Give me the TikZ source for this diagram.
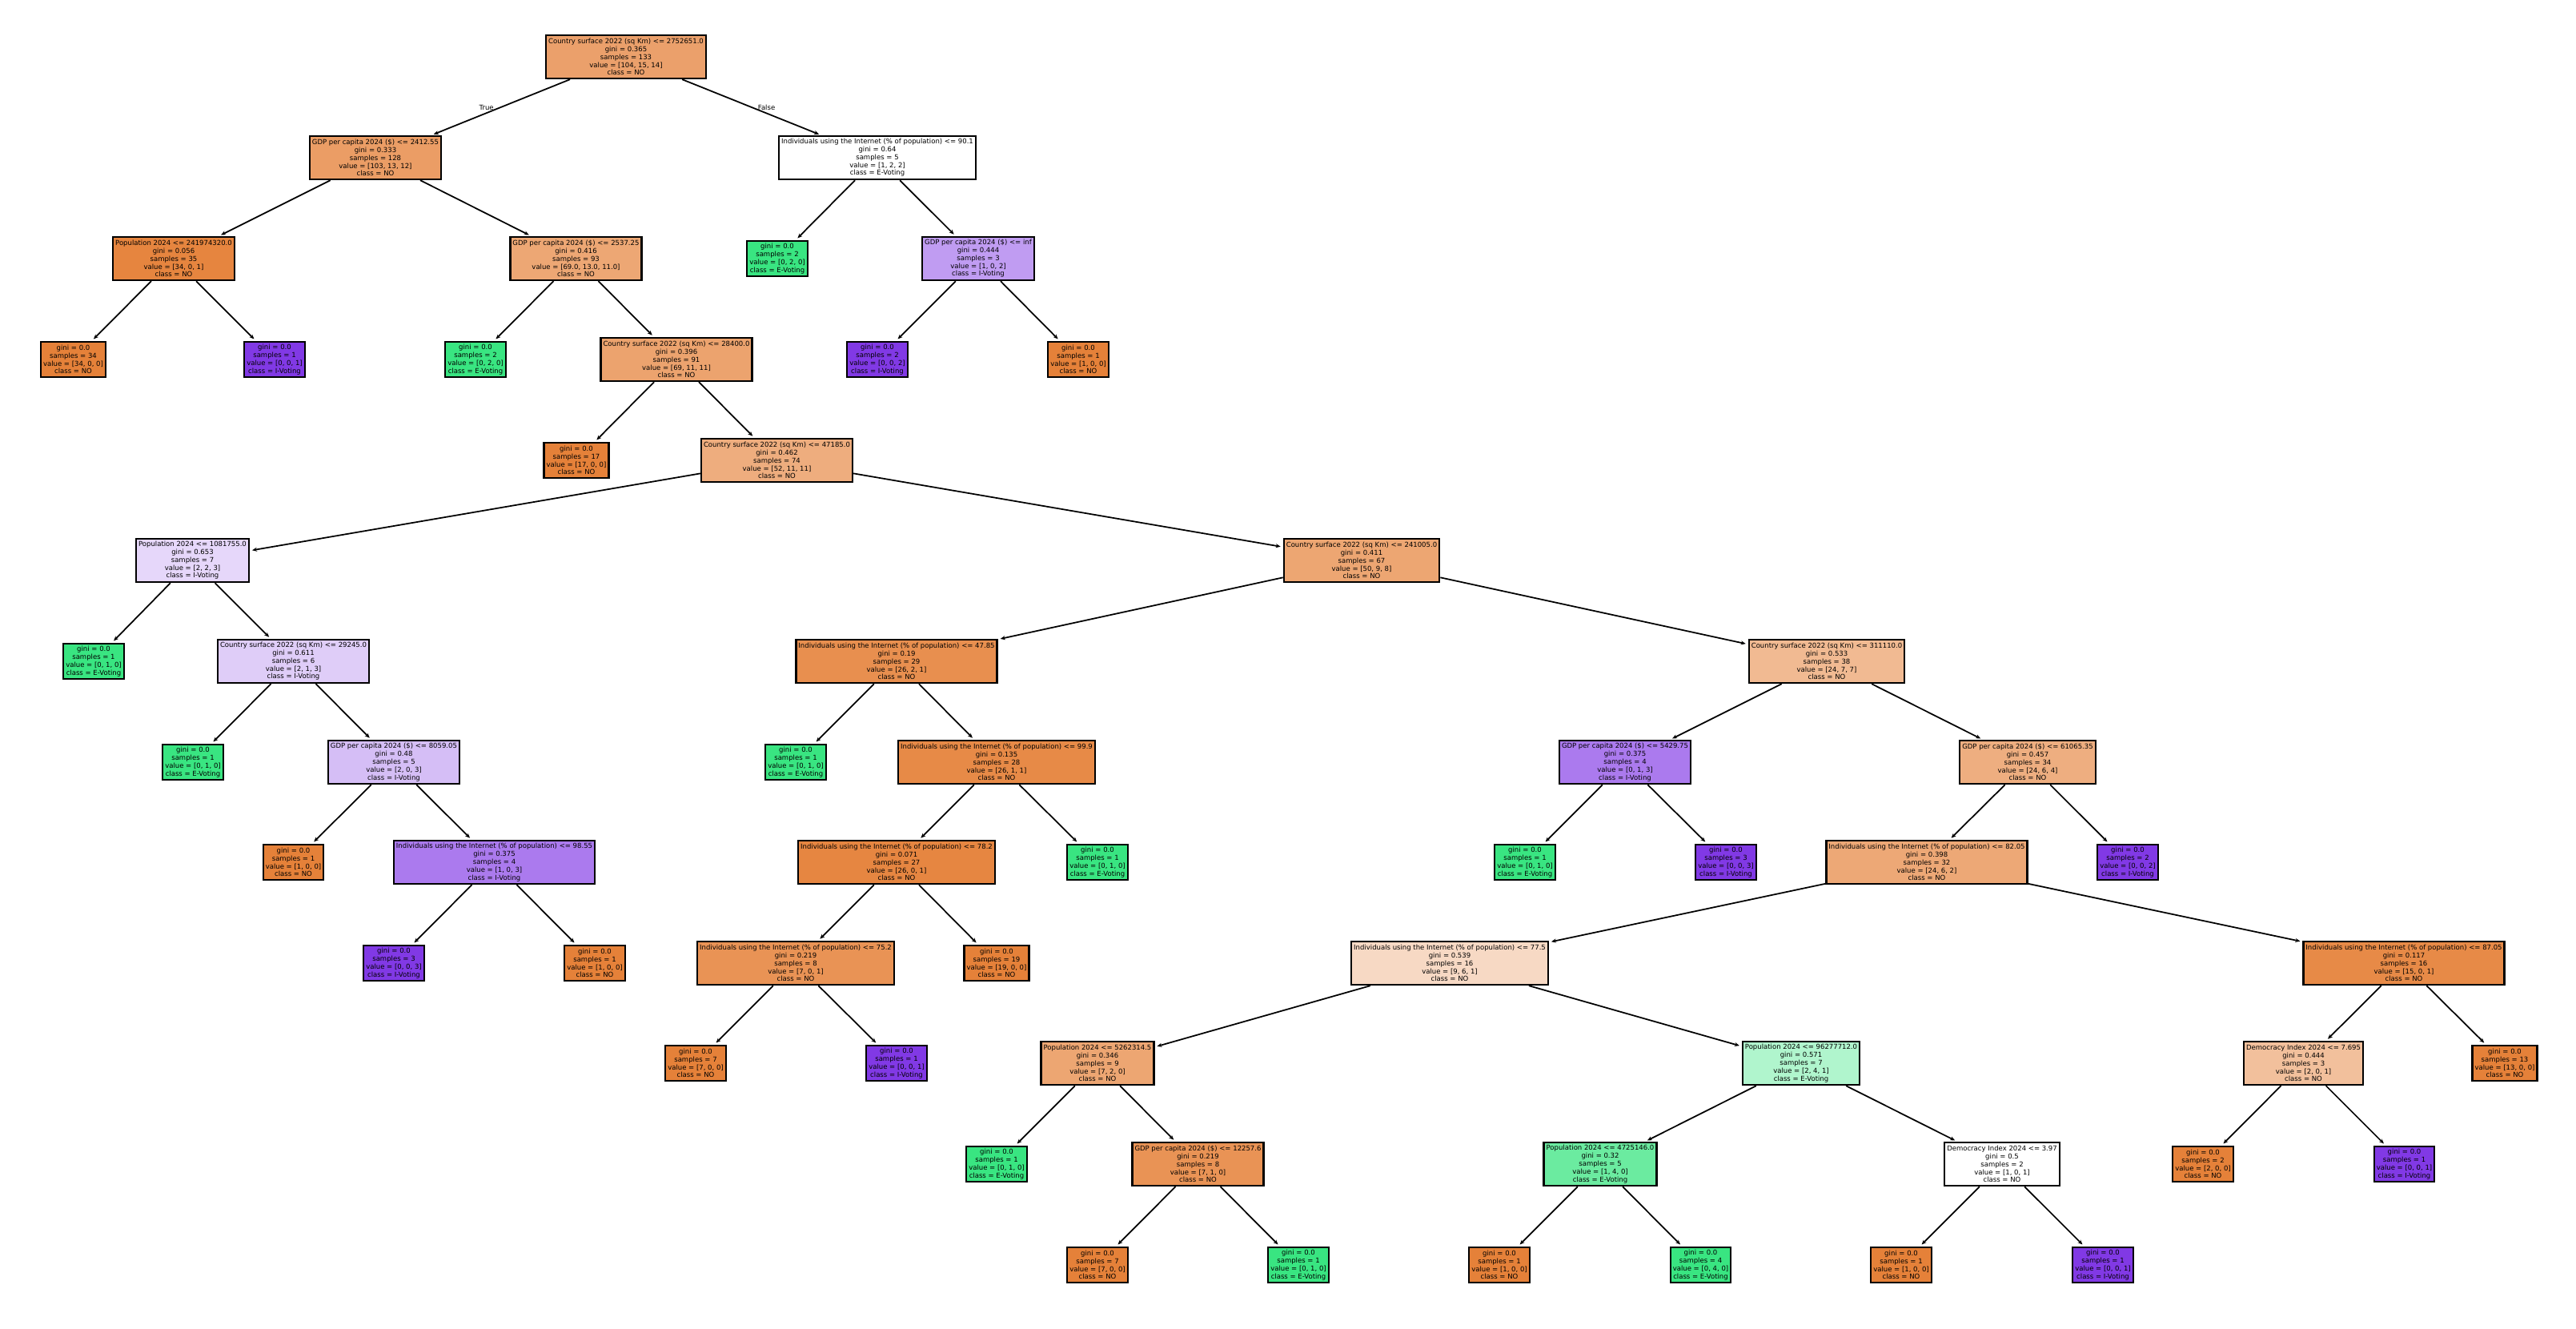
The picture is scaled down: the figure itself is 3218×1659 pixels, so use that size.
\documentclass[tikz,border=0pt]{standalone}
\usepackage{fontspec}
\setmainfont{DejaVu Sans}
\usetikzlibrary{arrows.meta}
\definecolor{classno}{RGB}{229,129,57}
\definecolor{classe}{RGB}{57,229,129}
\definecolor{classi}{RGB}{129,57,229}
\newcommand{\nodestats}[4]{gini = #1\\samples = #2\\value = [#3]\\class = #4}
\tikzset{
    treebox/.style={draw,rectangle,line width=0.65pt,align=center,inner sep=0.03cm,font=\fontsize{2.42}{2.79}\selectfont},
    splitbox/.style={treebox,minimum height=0.54cm},
    leafbox/.style={treebox,minimum height=0.445cm},
    branch/.style={-{Stealth[length=0.06cm,width=0.05cm]},line width=0.5pt,shorten >=0.03cm},
    sidelabel/.style={inner sep=0,font=\fontsize{2.42}{2.79}\selectfont}
}
\begin{document}
\begin{tikzpicture}[x=0.01cm,y=-0.01cm]
    \useasboundingbox (0,0) rectangle (3218,1659);
    %% Splits
    \node[splitbox,fill=classno!75] (root) at (782,71) {Country surface 2022 (sq Km) <= 2752651.0\\\nodestats{0.365}{133}{104, 15, 14}{NO}};
    \node[splitbox,fill=classno!78] (g2412) at (469,197) {GDP per capita 2024 (\$) <= 2412.55\\\nodestats{0.333}{128}{103, 13, 12}{NO}};
    \node[splitbox,fill=white] (i901) at (1096,197) {Individuals using the Internet (\% of population) <= 90.1\\\nodestats{0.64}{5}{1, 2, 2}{E-Voting}};
    \node[splitbox,fill=classno!97] (p241) at (217,323) {Population 2024 <= 241974320.0\\\nodestats{0.056}{35}{34, 0, 1}{NO}};
    \node[splitbox,fill=classno!70] (g2537) at (719.5,323) {GDP per capita 2024 (\$) <= 2537.25\\\nodestats{0.416}{93}{69.0, 13.0, 11.0}{NO}};
    \node[splitbox,fill=classi!50] (ginf) at (1222,323) {GDP per capita 2024 (\$) <= inf\\\nodestats{0.444}{3}{1, 0, 2}{I-Voting}};
    \node[splitbox,fill=classno!73] (c28400) at (845,449) {Country surface 2022 (sq Km) <= 28400.0\\\nodestats{0.396}{91}{69, 11, 11}{NO}};
    \node[splitbox,fill=classno!65] (c47185) at (970.5,575) {Country surface 2022 (sq Km) <= 47185.0\\\nodestats{0.462}{74}{52, 11, 11}{NO}};
    \node[splitbox,fill=classi!20] (p1081) at (240.5,700) {Population 2024 <= 1081755.0\\\nodestats{0.653}{7}{2, 2, 3}{I-Voting}};
    \node[splitbox,fill=classno!71] (c241) at (1701,700) {Country surface 2022 (sq Km) <= 241005.0\\\nodestats{0.411}{67}{50, 9, 8}{NO}};
    \node[splitbox,fill=classi!25] (c29245) at (366.5,826) {Country surface 2022 (sq Km) <= 29245.0\\\nodestats{0.611}{6}{2, 1, 3}{I-Voting}};
    \node[splitbox,fill=classno!89] (i4785) at (1120,826) {Individuals using the Internet (\% of population) <= 47.85\\\nodestats{0.19}{29}{26, 2, 1}{NO}};
    \node[splitbox,fill=classno!55] (c311) at (2282,826) {Country surface 2022 (sq Km) <= 311110.0\\\nodestats{0.533}{38}{24, 7, 7}{NO}};
    \node[splitbox,fill=classi!33] (g8059) at (492,952) {GDP per capita 2024 (\$) <= 8059.05\\\nodestats{0.48}{5}{2, 0, 3}{I-Voting}};
    \node[splitbox,fill=classno!93] (i999) at (1245,952) {Individuals using the Internet (\% of population) <= 99.9\\\nodestats{0.135}{28}{26, 1, 1}{NO}};
    \node[splitbox,fill=classi!67] (g5429) at (2030,952) {GDP per capita 2024 (\$) <= 5429.75\\\nodestats{0.375}{4}{0, 1, 3}{I-Voting}};
    \node[splitbox,fill=classno!64] (g61065) at (2533,952) {GDP per capita 2024 (\$) <= 61065.35\\\nodestats{0.457}{34}{24, 6, 4}{NO}};
    \node[splitbox,fill=classi!67] (i9855) at (617.5,1077) {Individuals using the Internet (\% of population) <= 98.55\\\nodestats{0.375}{4}{1, 0, 3}{I-Voting}};
    \node[splitbox,fill=classno!96] (i782) at (1120,1077) {Individuals using the Internet (\% of population) <= 78.2\\\nodestats{0.071}{27}{26, 0, 1}{NO}};
    \node[splitbox,fill=classno!69] (i8205) at (2407,1077) {Individuals using the Internet (\% of population) <= 82.05\\\nodestats{0.398}{32}{24, 6, 2}{NO}};
    \node[splitbox,fill=classno!86] (i752) at (994,1203) {Individuals using the Internet (\% of population) <= 75.2\\\nodestats{0.219}{8}{7, 0, 1}{NO}};
    \node[splitbox,fill=classno!30] (i775) at (1811,1203) {Individuals using the Internet (\% of population) <= 77.5\\\nodestats{0.539}{16}{9, 6, 1}{NO}};
    \node[splitbox,fill=classno!93] (i8705) at (3003,1203) {Individuals using the Internet (\% of population) <= 87.05\\\nodestats{0.117}{16}{15, 0, 1}{NO}};
    \node[splitbox,fill=classno!71] (p5262) at (1371,1328) {Population 2024 <= 5262314.5\\\nodestats{0.346}{9}{7, 2, 0}{NO}};
    \node[splitbox,fill=classe!40] (p96277) at (2250,1328) {Population 2024 <= 96277712.0\\\nodestats{0.571}{7}{2, 4, 1}{E-Voting}};
    \node[splitbox,fill=classno!50] (d7695) at (2877.5,1328) {Democracy Index 2024 <= 7.695\\\nodestats{0.444}{3}{2, 0, 1}{NO}};
    \node[splitbox,fill=classno!86] (g12257) at (1496.5,1454) {GDP per capita 2024 (\$) <= 12257.6\\\nodestats{0.219}{8}{7, 1, 0}{NO}};
    \node[splitbox,fill=classe!75] (p4725) at (1999,1454) {Population 2024 <= 4725146.0\\\nodestats{0.32}{5}{1, 4, 0}{E-Voting}};
    \node[splitbox,fill=white] (d397) at (2501,1454) {Democracy Index 2024 <= 3.97\\\nodestats{0.5}{2}{1, 0, 1}{NO}};
    %% Leaves
    \node[leafbox,fill=classno] (leaf1) at (91.5,449) {\nodestats{0.0}{34}{34, 0, 0}{NO}};
    \node[leafbox,fill=classi] (leaf2) at (343,449) {\nodestats{0.0}{1}{0, 0, 1}{I-Voting}};
    \node[leafbox,fill=classe] (leaf3) at (594,449) {\nodestats{0.0}{2}{0, 2, 0}{E-Voting}};
    \node[leafbox,fill=classno] (leaf4) at (720,575) {\nodestats{0.0}{17}{17, 0, 0}{NO}};
    \node[leafbox,fill=classe] (leaf5) at (971,323) {\nodestats{0.0}{2}{0, 2, 0}{E-Voting}};
    \node[leafbox,fill=classi] (leaf6) at (1096,449) {\nodestats{0.0}{2}{0, 0, 2}{I-Voting}};
    \node[leafbox,fill=classno] (leaf7) at (1347,449) {\nodestats{0.0}{1}{1, 0, 0}{NO}};
    \node[leafbox,fill=classe] (leaf8) at (117,826) {\nodestats{0.0}{1}{0, 1, 0}{E-Voting}};
    \node[leafbox,fill=classe] (leaf9) at (241,952) {\nodestats{0.0}{1}{0, 1, 0}{E-Voting}};
    \node[leafbox,fill=classno] (leaf10) at (366.5,1077) {\nodestats{0.0}{1}{1, 0, 0}{NO}};
    \node[leafbox,fill=classi] (leaf11) at (492,1203) {\nodestats{0.0}{3}{0, 0, 3}{I-Voting}};
    \node[leafbox,fill=classno] (leaf12) at (743,1203) {\nodestats{0.0}{1}{1, 0, 0}{NO}};
    \node[leafbox,fill=classe] (leaf13) at (994,952) {\nodestats{0.0}{1}{0, 1, 0}{E-Voting}};
    \node[leafbox,fill=classe] (leaf14) at (1371,1077) {\nodestats{0.0}{1}{0, 1, 0}{E-Voting}};
    \node[leafbox,fill=classno] (leaf15) at (1245,1203) {\nodestats{0.0}{19}{19, 0, 0}{NO}};
    \node[leafbox,fill=classno] (leaf16) at (869,1328) {\nodestats{0.0}{7}{7, 0, 0}{NO}};
    \node[leafbox,fill=classi] (leaf17) at (1120,1328) {\nodestats{0.0}{1}{0, 0, 1}{I-Voting}};
    \node[leafbox,fill=classe] (leaf18) at (1905,1077) {\nodestats{0.0}{1}{0, 1, 0}{E-Voting}};
    \node[leafbox,fill=classi] (leaf19) at (2156,1077) {\nodestats{0.0}{3}{0, 0, 3}{I-Voting}};
    \node[leafbox,fill=classi] (leaf20) at (2658,1077) {\nodestats{0.0}{2}{0, 0, 2}{I-Voting}};
    \node[leafbox,fill=classe] (leaf21) at (1245,1454) {\nodestats{0.0}{1}{0, 1, 0}{E-Voting}};
    \node[leafbox,fill=classno] (leaf22) at (1371,1580) {\nodestats{0.0}{7}{7, 0, 0}{NO}};
    \node[leafbox,fill=classe] (leaf23) at (1622,1580) {\nodestats{0.0}{1}{0, 1, 0}{E-Voting}};
    \node[leafbox,fill=classno] (leaf24) at (1873,1580) {\nodestats{0.0}{1}{1, 0, 0}{NO}};
    \node[leafbox,fill=classe] (leaf25) at (2124.5,1580) {\nodestats{0.0}{4}{0, 4, 0}{E-Voting}};
    \node[leafbox,fill=classno] (leaf26) at (2375,1580) {\nodestats{0.0}{1}{1, 0, 0}{NO}};
    \node[leafbox,fill=classi] (leaf27) at (2627,1580) {\nodestats{0.0}{1}{0, 0, 1}{I-Voting}};
    \node[leafbox,fill=classno] (leaf28) at (2752,1454) {\nodestats{0.0}{2}{2, 0, 0}{NO}};
    \node[leafbox,fill=classi] (leaf29) at (3003.5,1454) {\nodestats{0.0}{1}{0, 0, 1}{I-Voting}};
    \node[leafbox,fill=classno] (leaf30) at (3129,1328) {\nodestats{0.0}{13}{13, 0, 0}{NO}};
    %% Branches
    \draw[branch] (root) -- (g2412) node[midway,left=0.08cm,sidelabel] (truelabel) {True};
    \draw[branch] (root) -- (i901) node[midway,right=0.07cm,sidelabel] (falselabel) {False};
    \draw[branch] (g2412) -- (p241);
    \draw[branch] (g2412) -- (g2537);
    \draw[branch] (p241) -- (leaf1);
    \draw[branch] (p241) -- (leaf2);
    \draw[branch] (g2537) -- (leaf3);
    \draw[branch] (g2537) -- (c28400);
    \draw[branch] (c28400) -- (leaf4);
    \draw[branch] (c28400) -- (c47185);
    \draw[branch] (c47185) -- (p1081);
    \draw[branch] (c47185) -- (c241);
    \draw[branch] (p1081) -- (leaf8);
    \draw[branch] (p1081) -- (c29245);
    \draw[branch] (c29245) -- (leaf9);
    \draw[branch] (c29245) -- (g8059);
    \draw[branch] (g8059) -- (leaf10);
    \draw[branch] (g8059) -- (i9855);
    \draw[branch] (i9855) -- (leaf11);
    \draw[branch] (i9855) -- (leaf12);
    \draw[branch] (c241) -- (i4785);
    \draw[branch] (c241) -- (c311);
    \draw[branch] (i4785) -- (leaf13);
    \draw[branch] (i4785) -- (i999);
    \draw[branch] (i999) -- (i782);
    \draw[branch] (i999) -- (leaf14);
    \draw[branch] (i782) -- (i752);
    \draw[branch] (i782) -- (leaf15);
    \draw[branch] (i752) -- (leaf16);
    \draw[branch] (i752) -- (leaf17);
    \draw[branch] (c311) -- (g5429);
    \draw[branch] (c311) -- (g61065);
    \draw[branch] (g5429) -- (leaf18);
    \draw[branch] (g5429) -- (leaf19);
    \draw[branch] (g61065) -- (i8205);
    \draw[branch] (g61065) -- (leaf20);
    \draw[branch] (i8205) -- (i775);
    \draw[branch] (i8205) -- (i8705);
    \draw[branch] (i775) -- (p5262);
    \draw[branch] (i775) -- (p96277);
    \draw[branch] (p5262) -- (leaf21);
    \draw[branch] (p5262) -- (g12257);
    \draw[branch] (g12257) -- (leaf22);
    \draw[branch] (g12257) -- (leaf23);
    \draw[branch] (p96277) -- (p4725);
    \draw[branch] (p96277) -- (d397);
    \draw[branch] (p4725) -- (leaf24);
    \draw[branch] (p4725) -- (leaf25);
    \draw[branch] (d397) -- (leaf26);
    \draw[branch] (d397) -- (leaf27);
    \draw[branch] (i8705) -- (d7695);
    \draw[branch] (i8705) -- (leaf30);
    \draw[branch] (d7695) -- (leaf28);
    \draw[branch] (d7695) -- (leaf29);
    \draw[branch] (i901) -- (leaf5);
    \draw[branch] (i901) -- (ginf);
    \draw[branch] (ginf) -- (leaf6);
    \draw[branch] (ginf) -- (leaf7);
\end{tikzpicture}
\end{document}
